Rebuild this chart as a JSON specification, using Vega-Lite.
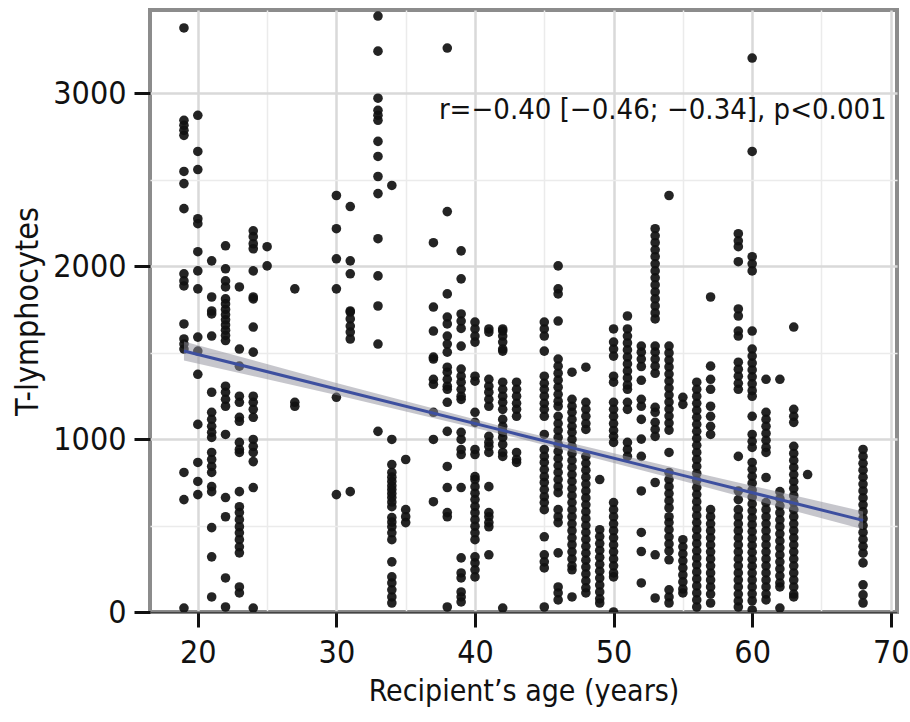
{
"$schema": "https://vega.github.io/schema/vega-lite/v6.json",
"width": 747, "height": 602,
"autosize": {"type": "none"},
"padding": {"left": 150, "top": 10, "right": 13, "bottom": 110},
"background": "white",
"config": {"view": {"stroke": "#8c8c8c", "strokeWidth": 4}, "font": "DejaVu Sans Condensed, Roboto, sans-serif"},
"datasets": {
"pts": [
{"a":19,"v":3378},{"a":19,"v":2844},{"a":19,"v":2815},{"a":19,"v":2786},{"a":19,"v":2757},{"a":19,"v":2548},{"a":19,"v":2478},{"a":19,"v":2333},{"a":19,"v":1956},{"a":19,"v":1915},{"a":19,"v":1886},{"a":19,"v":1666},{"a":19,"v":1579},{"a":19,"v":1550},{"a":19,"v":1521},{"a":19,"v":807},{"a":19,"v":650},{"a":19,"v":23},
{"a":20,"v":2873},{"a":20,"v":2664},{"a":20,"v":2559},{"a":20,"v":2275},{"a":20,"v":2246},{"a":20,"v":2084},{"a":20,"v":1973},{"a":20,"v":1869},{"a":20,"v":1590},{"a":20,"v":1509},{"a":20,"v":1375},{"a":20,"v":1085},{"a":20,"v":865},{"a":20,"v":755},{"a":20,"v":679},
{"a":21,"v":2031},{"a":21,"v":1822},{"a":21,"v":1741},{"a":21,"v":1724},{"a":21,"v":1596},{"a":21,"v":1271},{"a":21,"v":1155},{"a":21,"v":1114},{"a":21,"v":1074},{"a":21,"v":1039},{"a":21,"v":1010},{"a":21,"v":923},{"a":21,"v":882},{"a":21,"v":842},{"a":21,"v":807},{"a":21,"v":725},{"a":21,"v":696},{"a":21,"v":488},{"a":21,"v":319},{"a":21,"v":87},
{"a":22,"v":2118},{"a":22,"v":1985},{"a":22,"v":1915},{"a":22,"v":1880},{"a":22,"v":1811},{"a":22,"v":1782},{"a":22,"v":1750},{"a":22,"v":1720},{"a":22,"v":1690},{"a":22,"v":1660},{"a":22,"v":1630},{"a":22,"v":1600},{"a":22,"v":1570},{"a":22,"v":1306},{"a":22,"v":1271},{"a":22,"v":1230},{"a":22,"v":1190},{"a":22,"v":1027},{"a":22,"v":662},{"a":22,"v":551},{"a":22,"v":197},{"a":22,"v":29},
{"a":23,"v":1880},{"a":23,"v":1521},{"a":23,"v":1422},{"a":23,"v":1248},{"a":23,"v":1213},{"a":23,"v":1126},{"a":23,"v":1103},{"a":23,"v":981},{"a":23,"v":940},{"a":23,"v":923},{"a":23,"v":696},{"a":23,"v":609},{"a":23,"v":575},{"a":23,"v":534},{"a":23,"v":493},{"a":23,"v":458},{"a":23,"v":418},{"a":23,"v":377},{"a":23,"v":342},{"a":23,"v":145},{"a":23,"v":110},
{"a":24,"v":2205},{"a":24,"v":2171},{"a":24,"v":2130},{"a":24,"v":2101},{"a":24,"v":1973},{"a":24,"v":1822},{"a":24,"v":1811},{"a":24,"v":1648},{"a":24,"v":1503},{"a":24,"v":1248},{"a":24,"v":1213},{"a":24,"v":1172},{"a":24,"v":1126},{"a":24,"v":998},{"a":24,"v":958},{"a":24,"v":923},{"a":24,"v":870},{"a":24,"v":720},{"a":24,"v":23},
{"a":25,"v":2113},{"a":25,"v":2002},
{"a":27,"v":1869},{"a":27,"v":1213},{"a":27,"v":1190},
{"a":30,"v":2409},{"a":30,"v":2217},{"a":30,"v":2043},{"a":30,"v":1869},{"a":30,"v":1242},{"a":30,"v":679},
{"a":31,"v":2345},{"a":31,"v":2031},{"a":31,"v":1956},{"a":31,"v":1741},{"a":31,"v":1735},{"a":31,"v":1695},{"a":31,"v":1654},{"a":31,"v":1619},{"a":31,"v":1579},{"a":31,"v":696},
{"a":33,"v":3447},{"a":33,"v":3244},{"a":33,"v":2972},{"a":33,"v":2902},{"a":33,"v":2873},{"a":33,"v":2844},{"a":33,"v":2722},{"a":33,"v":2635},{"a":33,"v":2519},{"a":33,"v":2420},{"a":33,"v":2159},{"a":33,"v":1944},{"a":33,"v":1770},{"a":33,"v":1550},{"a":33,"v":1045},
{"a":34,"v":2467},{"a":34,"v":998},{"a":34,"v":853},{"a":34,"v":807},{"a":34,"v":780},{"a":34,"v":755},{"a":34,"v":730},{"a":34,"v":708},{"a":34,"v":685},{"a":34,"v":662},{"a":34,"v":636},{"a":34,"v":609},{"a":34,"v":546},{"a":34,"v":520},{"a":34,"v":493},{"a":34,"v":458},{"a":34,"v":418},{"a":34,"v":290},{"a":34,"v":203},{"a":34,"v":168},{"a":34,"v":128},{"a":34,"v":87},{"a":34,"v":52},
{"a":35,"v":882},{"a":35,"v":592},{"a":35,"v":551},{"a":35,"v":517},
{"a":37,"v":2136},{"a":37,"v":1764},{"a":37,"v":1625},{"a":37,"v":1474},{"a":37,"v":1463},{"a":37,"v":1346},{"a":37,"v":1317},{"a":37,"v":1155},{"a":37,"v":998},{"a":37,"v":638},
{"a":38,"v":3262},{"a":38,"v":2316},{"a":38,"v":1840},{"a":38,"v":1706},{"a":38,"v":1666},{"a":38,"v":1596},{"a":38,"v":1550},{"a":38,"v":1503},{"a":38,"v":1416},{"a":38,"v":1387},{"a":38,"v":1346},{"a":38,"v":1306},{"a":38,"v":1288},{"a":38,"v":1213},{"a":38,"v":1045},{"a":38,"v":842},{"a":38,"v":720},{"a":38,"v":575},{"a":38,"v":551},{"a":38,"v":29},
{"a":39,"v":2089},{"a":39,"v":1927},{"a":39,"v":1724},{"a":39,"v":1683},{"a":39,"v":1640},{"a":39,"v":1538},{"a":39,"v":1405},{"a":39,"v":1364},{"a":39,"v":1329},{"a":39,"v":1288},{"a":39,"v":1248},{"a":39,"v":1230},{"a":39,"v":1039},{"a":39,"v":998},{"a":39,"v":940},{"a":39,"v":911},{"a":39,"v":720},{"a":39,"v":313},{"a":39,"v":226},{"a":39,"v":197},{"a":39,"v":116},{"a":39,"v":87},{"a":39,"v":58},
{"a":40,"v":1677},{"a":40,"v":1637},{"a":40,"v":1596},{"a":40,"v":1561},{"a":40,"v":1364},{"a":40,"v":1335},{"a":40,"v":1155},{"a":40,"v":1097},{"a":40,"v":940},{"a":40,"v":911},{"a":40,"v":783},{"a":40,"v":766},{"a":40,"v":725},{"a":40,"v":687},{"a":40,"v":650},{"a":40,"v":611},{"a":40,"v":574},{"a":40,"v":534},{"a":40,"v":496},{"a":40,"v":458},{"a":40,"v":418},{"a":40,"v":319},{"a":40,"v":284},{"a":40,"v":244},{"a":40,"v":203},
{"a":41,"v":1637},{"a":41,"v":1619},{"a":41,"v":1346},{"a":41,"v":1306},{"a":41,"v":1271},{"a":41,"v":1230},{"a":41,"v":1190},{"a":41,"v":1016},{"a":41,"v":981},{"a":41,"v":958},{"a":41,"v":923},{"a":41,"v":725},{"a":41,"v":575},{"a":41,"v":551},{"a":41,"v":517},{"a":41,"v":493},{"a":41,"v":331},
{"a":42,"v":1637},{"a":42,"v":1625},{"a":42,"v":1596},{"a":42,"v":1561},{"a":42,"v":1521},{"a":42,"v":1509},{"a":42,"v":1329},{"a":42,"v":1288},{"a":42,"v":1248},{"a":42,"v":1213},{"a":42,"v":1172},{"a":42,"v":1114},{"a":42,"v":1074},{"a":42,"v":1045},{"a":42,"v":1039},{"a":42,"v":1010},{"a":42,"v":969},{"a":42,"v":923},{"a":42,"v":900},{"a":42,"v":23},
{"a":43,"v":1329},{"a":43,"v":1288},{"a":43,"v":1248},{"a":43,"v":1207},{"a":43,"v":1172},{"a":43,"v":1132},{"a":43,"v":923},{"a":43,"v":882},{"a":43,"v":865},
{"a":45,"v":1677},{"a":45,"v":1637},{"a":45,"v":1596},{"a":45,"v":1509},{"a":45,"v":1364},{"a":45,"v":1323},{"a":45,"v":1288},{"a":45,"v":1248},{"a":45,"v":1207},{"a":45,"v":1172},{"a":45,"v":1132},{"a":45,"v":1027},{"a":45,"v":940},{"a":45,"v":900},{"a":45,"v":865},{"a":45,"v":824},{"a":45,"v":783},{"a":45,"v":749},{"a":45,"v":708},{"a":45,"v":667},{"a":45,"v":633},{"a":45,"v":592},{"a":45,"v":435},{"a":45,"v":331},{"a":45,"v":290},{"a":45,"v":255},{"a":45,"v":29},
{"a":46,"v":2002},{"a":46,"v":1869},{"a":46,"v":1840},{"a":46,"v":1683},{"a":46,"v":1463},{"a":46,"v":1422},{"a":46,"v":1381},{"a":46,"v":1341},{"a":46,"v":1300},{"a":46,"v":1259},{"a":46,"v":1219},{"a":46,"v":1190},{"a":46,"v":1132},{"a":46,"v":1090},{"a":46,"v":1050},{"a":46,"v":1010},{"a":46,"v":969},{"a":46,"v":929},{"a":46,"v":888},{"a":46,"v":847},{"a":46,"v":807},{"a":46,"v":766},{"a":46,"v":725},{"a":46,"v":690},{"a":46,"v":592},{"a":46,"v":551},{"a":46,"v":517},{"a":46,"v":342},{"a":46,"v":145},{"a":46,"v":110},{"a":46,"v":70},
{"a":47,"v":1387},{"a":47,"v":1230},{"a":47,"v":1190},{"a":47,"v":1155},{"a":47,"v":1114},{"a":47,"v":1074},{"a":47,"v":1039},{"a":47,"v":998},{"a":47,"v":958},{"a":47,"v":917},{"a":47,"v":877},{"a":47,"v":836},{"a":47,"v":795},{"a":47,"v":755},{"a":47,"v":714},{"a":47,"v":673},{"a":47,"v":633},{"a":47,"v":592},{"a":47,"v":551},{"a":47,"v":510},{"a":47,"v":470},{"a":47,"v":429},{"a":47,"v":389},{"a":47,"v":348},{"a":47,"v":307},{"a":47,"v":267},{"a":47,"v":244},{"a":47,"v":87},
{"a":48,"v":1416},{"a":48,"v":1213},{"a":48,"v":1172},{"a":48,"v":1132},{"a":48,"v":1090},{"a":48,"v":1056},{"a":48,"v":900},{"a":48,"v":860},{"a":48,"v":820},{"a":48,"v":780},{"a":48,"v":740},{"a":48,"v":700},{"a":48,"v":660},{"a":48,"v":620},{"a":48,"v":580},{"a":48,"v":540},{"a":48,"v":500},{"a":48,"v":460},{"a":48,"v":420},{"a":48,"v":380},{"a":48,"v":340},{"a":48,"v":300},{"a":48,"v":260},{"a":48,"v":220},{"a":48,"v":180},{"a":48,"v":140},{"a":48,"v":110},
{"a":49,"v":766},{"a":49,"v":476},{"a":49,"v":436},{"a":49,"v":396},{"a":49,"v":356},{"a":49,"v":316},{"a":49,"v":276},{"a":49,"v":236},{"a":49,"v":196},{"a":49,"v":156},{"a":49,"v":116},{"a":49,"v":76},{"a":49,"v":52},
{"a":50,"v":1637},{"a":50,"v":1561},{"a":50,"v":1521},{"a":50,"v":1480},{"a":50,"v":1364},{"a":50,"v":1329},{"a":50,"v":1213},{"a":50,"v":1172},{"a":50,"v":1132},{"a":50,"v":1090},{"a":50,"v":1050},{"a":50,"v":1016},{"a":50,"v":981},{"a":50,"v":633},{"a":50,"v":592},{"a":50,"v":551},{"a":50,"v":510},{"a":50,"v":470},{"a":50,"v":429},{"a":50,"v":388},{"a":50,"v":348},{"a":50,"v":307},{"a":50,"v":267},{"a":50,"v":226},{"a":50,"v":203},{"a":50,"v":0},
{"a":51,"v":1712},{"a":51,"v":1637},{"a":51,"v":1596},{"a":51,"v":1556},{"a":51,"v":1516},{"a":51,"v":1475},{"a":51,"v":1435},{"a":51,"v":1394},{"a":51,"v":1354},{"a":51,"v":1313},{"a":51,"v":1288},{"a":51,"v":1213},{"a":51,"v":1172},{"a":51,"v":981},{"a":51,"v":940},{"a":51,"v":900},
{"a":52,"v":1538},{"a":52,"v":1503},{"a":52,"v":1463},{"a":52,"v":1420},{"a":52,"v":1340},{"a":52,"v":1230},{"a":52,"v":1190},{"a":52,"v":1114},{"a":52,"v":1000},{"a":52,"v":900},{"a":52,"v":700},{"a":52,"v":460},{"a":52,"v":350},{"a":52,"v":168},
{"a":53,"v":2217},{"a":53,"v":2176},{"a":53,"v":2136},{"a":53,"v":2095},{"a":53,"v":2055},{"a":53,"v":2014},{"a":53,"v":1973},{"a":53,"v":1933},{"a":53,"v":1892},{"a":53,"v":1851},{"a":53,"v":1811},{"a":53,"v":1770},{"a":53,"v":1730},{"a":53,"v":1695},{"a":53,"v":1538},{"a":53,"v":1503},{"a":53,"v":1463},{"a":53,"v":1422},{"a":53,"v":1381},{"a":53,"v":1184},{"a":53,"v":1155},{"a":53,"v":1097},{"a":53,"v":1056},{"a":53,"v":1016},{"a":53,"v":749},{"a":53,"v":331},{"a":53,"v":81},
{"a":54,"v":2409},{"a":54,"v":1538},{"a":54,"v":1498},{"a":54,"v":1457},{"a":54,"v":1417},{"a":54,"v":1376},{"a":54,"v":1336},{"a":54,"v":1295},{"a":54,"v":1255},{"a":54,"v":1214},{"a":54,"v":1174},{"a":54,"v":1133},{"a":54,"v":1093},{"a":54,"v":1052},{"a":54,"v":923},{"a":54,"v":807},{"a":54,"v":766},{"a":54,"v":725},{"a":54,"v":685},{"a":54,"v":644},{"a":54,"v":603},{"a":54,"v":551},{"a":54,"v":517},{"a":54,"v":476},{"a":54,"v":435},{"a":54,"v":394},{"a":54,"v":353},{"a":54,"v":302},{"a":54,"v":128},{"a":54,"v":87},{"a":54,"v":52},
{"a":55,"v":1242},{"a":55,"v":1201},{"a":55,"v":418},{"a":55,"v":377},{"a":55,"v":336},{"a":55,"v":296},{"a":55,"v":255},{"a":55,"v":214},{"a":55,"v":174},{"a":55,"v":133},{"a":55,"v":110},
{"a":56,"v":1329},{"a":56,"v":1288},{"a":56,"v":1248},{"a":56,"v":1207},{"a":56,"v":1166},{"a":56,"v":1126},{"a":56,"v":1085},{"a":56,"v":1045},{"a":56,"v":1004},{"a":56,"v":964},{"a":56,"v":923},{"a":56,"v":882},{"a":56,"v":842},{"a":56,"v":801},{"a":56,"v":760},{"a":56,"v":720},{"a":56,"v":679},{"a":56,"v":638},{"a":56,"v":598},{"a":56,"v":557},{"a":56,"v":517},{"a":56,"v":476},{"a":56,"v":435},{"a":56,"v":395},{"a":56,"v":354},{"a":56,"v":313},{"a":56,"v":273},{"a":56,"v":232},{"a":56,"v":191},{"a":56,"v":151},{"a":56,"v":110},{"a":56,"v":70},{"a":56,"v":29},
{"a":57,"v":1822},{"a":57,"v":1422},{"a":57,"v":1346},{"a":57,"v":1288},{"a":57,"v":1190},{"a":57,"v":1132},{"a":57,"v":1074},{"a":57,"v":1027},{"a":57,"v":592},{"a":57,"v":551},{"a":57,"v":510},{"a":57,"v":470},{"a":57,"v":429},{"a":57,"v":388},{"a":57,"v":348},{"a":57,"v":307},{"a":57,"v":267},{"a":57,"v":226},{"a":57,"v":185},{"a":57,"v":145},{"a":57,"v":104},{"a":57,"v":52},
{"a":59,"v":2188},{"a":59,"v":2147},{"a":59,"v":2113},{"a":59,"v":2026},{"a":59,"v":1753},{"a":59,"v":1712},{"a":59,"v":1625},{"a":59,"v":1596},{"a":59,"v":1445},{"a":59,"v":1404},{"a":59,"v":1364},{"a":59,"v":1323},{"a":59,"v":1288},{"a":59,"v":900},{"a":59,"v":700},{"a":59,"v":650},{"a":59,"v":592},{"a":59,"v":551},{"a":59,"v":510},{"a":59,"v":470},{"a":59,"v":429},{"a":59,"v":388},{"a":59,"v":348},{"a":59,"v":307},{"a":59,"v":267},{"a":59,"v":226},{"a":59,"v":185},{"a":59,"v":145},{"a":59,"v":104},{"a":59,"v":64},{"a":59,"v":29},
{"a":60,"v":3204},{"a":60,"v":2664},{"a":60,"v":2055},{"a":60,"v":2014},{"a":60,"v":1973},{"a":60,"v":1625},{"a":60,"v":1521},{"a":60,"v":1480},{"a":60,"v":1440},{"a":60,"v":1400},{"a":60,"v":1360},{"a":60,"v":1320},{"a":60,"v":1280},{"a":60,"v":1248},{"a":60,"v":1132},{"a":60,"v":1027},{"a":60,"v":987},{"a":60,"v":952},{"a":60,"v":865},{"a":60,"v":825},{"a":60,"v":785},{"a":60,"v":745},{"a":60,"v":705},{"a":60,"v":665},{"a":60,"v":625},{"a":60,"v":585},{"a":60,"v":545},{"a":60,"v":505},{"a":60,"v":465},{"a":60,"v":425},{"a":60,"v":385},{"a":60,"v":345},{"a":60,"v":305},{"a":60,"v":265},{"a":60,"v":225},{"a":60,"v":185},{"a":60,"v":145},{"a":60,"v":105},{"a":60,"v":65},{"a":60,"v":12},
{"a":61,"v":1346},{"a":61,"v":1155},{"a":61,"v":1114},{"a":61,"v":1074},{"a":61,"v":1033},{"a":61,"v":993},{"a":61,"v":952},{"a":61,"v":923},{"a":61,"v":778},{"a":61,"v":633},{"a":61,"v":592},{"a":61,"v":551},{"a":61,"v":510},{"a":61,"v":470},{"a":61,"v":429},{"a":61,"v":388},{"a":61,"v":348},{"a":61,"v":307},{"a":61,"v":267},{"a":61,"v":226},{"a":61,"v":185},{"a":61,"v":145},{"a":61,"v":104},{"a":61,"v":70},
{"a":62,"v":1346},{"a":62,"v":696},{"a":62,"v":655},{"a":62,"v":614},{"a":62,"v":574},{"a":62,"v":533},{"a":62,"v":493},{"a":62,"v":452},{"a":62,"v":411},{"a":62,"v":371},{"a":62,"v":330},{"a":62,"v":290},{"a":62,"v":249},{"a":62,"v":209},{"a":62,"v":168},{"a":62,"v":145},{"a":62,"v":23},
{"a":63,"v":1648},{"a":63,"v":1172},{"a":63,"v":1132},{"a":63,"v":1097},{"a":63,"v":958},{"a":63,"v":917},{"a":63,"v":877},{"a":63,"v":836},{"a":63,"v":795},{"a":63,"v":755},{"a":63,"v":714},{"a":63,"v":673},{"a":63,"v":633},{"a":63,"v":592},{"a":63,"v":551},{"a":63,"v":510},{"a":63,"v":470},{"a":63,"v":429},{"a":63,"v":388},{"a":63,"v":348},{"a":63,"v":307},{"a":63,"v":267},{"a":63,"v":226},{"a":63,"v":185},{"a":63,"v":145},{"a":63,"v":104},{"a":63,"v":87},
{"a":64,"v":795},
{"a":68,"v":940},{"a":68,"v":900},{"a":68,"v":860},{"a":68,"v":820},{"a":68,"v":780},{"a":68,"v":740},{"a":68,"v":700},{"a":68,"v":660},{"a":68,"v":620},{"a":68,"v":580},{"a":68,"v":540},{"a":68,"v":500},{"a":68,"v":460},{"a":68,"v":420},{"a":68,"v":380},{"a":68,"v":340},{"a":68,"v":284},{"a":68,"v":157},{"a":68,"v":99},{"a":68,"v":52}
],
"fit": [
{"a":19,"v":1510,"lo":1455,"hi":1565},
{"a":30,"v":1290,"lo":1255,"hi":1325},
{"a":43,"v":1030,"lo":1008,"hi":1052},
{"a":55,"v":790,"lo":757,"hi":823},
{"a":68,"v":530,"lo":478,"hi":582}
],
"note": [{"a":53.55,"v":2902,"label":"r=−0.40 [−0.46; −0.34], p<0.001"}]
},
"encoding": {
"x": {"field": "a", "type": "quantitative",
 "scale": {"domain": [16.55, 70.45], "nice": false, "zero": false},
 "axis": {"title": "Recipient’s age (years)", "values": [20,25,30,35,40,45,50,55,60,65,70],
  "labelExpr": "datum.value % 10 === 0 ? datum.label : ''",
  "grid": true,
  "gridColor": {"condition": {"test": "datum.value % 10 === 0", "value": "#d9d9d9"}, "value": "#ebebeb"},
  "gridWidth": {"condition": {"test": "datum.value % 10 === 0", "value": 2.5}, "value": 1.5},
  "tickOpacity": {"condition": {"test": "datum.value % 10 === 0", "value": 1}, "value": 0},
  "tickColor": "#111", "tickWidth": 3, "tickSize": 15,
  "domainColor": "#444", "domainWidth": 2,
  "labelFontSize": 32, "labelColor": "#111", "labelPadding": 10, "labelFlush": false, "labelOverlap": false,
  "titleFontSize": 30, "titleColor": "#111", "titleFontWeight": "normal", "titlePadding": 8}},
"y": {"field": "v", "type": "quantitative",
 "scale": {"domain": [0, 3482], "nice": false, "zero": false},
 "axis": {"title": "T-lymphocytes", "values": [0,500,1000,1500,2000,2500,3000],
    "labelExpr": "datum.value % 1000 === 0 ? datum.label : ''",
    "format": "d",
    "grid": true,
    "gridColor": {"condition": {"test": "datum.value % 1000 === 0", "value": "#d9d9d9"}, "value": "#ebebeb"},
    "gridWidth": {"condition": {"test": "datum.value % 1000 === 0", "value": 2.5}, "value": 1.5},
    "tickOpacity": {"condition": {"test": "datum.value % 1000 === 0", "value": 1}, "value": 0},
    "tickColor": "#111", "tickWidth": 3, "tickSize": 16,
    "domain": false,
    "labelFontSize": 32, "labelColor": "#111", "labelPadding": 8, "labelFlush": false, "labelOverlap": false,
    "titleFontSize": 32, "titleColor": "#111", "titleFontWeight": "normal", "titlePadding": 8}}
},
"layer": [
{"data": {"name": "pts"},
 "mark": {"type": "circle", "size": 92, "color": "#111", "opacity": 0.92, "clip": true}},
{"data": {"name": "fit"},
 "mark": {"type": "area", "color": "#8e8e9a", "opacity": 0.5},
 "encoding": {
  "y": {"field": "lo", "type": "quantitative",
   "scale": {"domain": [0, 3482], "nice": false, "zero": false},
   "axis": {"title": "T-lymphocytes", "values": [0,500,1000,1500,2000,2500,3000],
    "labelExpr": "datum.value % 1000 === 0 ? datum.label : ''",
    "format": "d",
    "grid": true,
    "gridColor": {"condition": {"test": "datum.value % 1000 === 0", "value": "#d9d9d9"}, "value": "#ebebeb"},
    "gridWidth": {"condition": {"test": "datum.value % 1000 === 0", "value": 2.5}, "value": 1.5},
    "tickOpacity": {"condition": {"test": "datum.value % 1000 === 0", "value": 1}, "value": 0},
    "tickColor": "#111", "tickWidth": 3, "tickSize": 16,
    "domain": false,
    "labelFontSize": 32, "labelColor": "#111", "labelPadding": 8, "labelFlush": false, "labelOverlap": false,
    "titleFontSize": 32, "titleColor": "#111", "titleFontWeight": "normal", "titlePadding": 8}},
  "y2": {"field": "hi"}
 }},
{"data": {"name": "fit"},
 "mark": {"type": "line", "color": "#3d4f9f", "strokeWidth": 3}},
{"data": {"name": "note"},
 "mark": {"type": "text", "fontSize": 29, "color": "#111", "align": "center", "baseline": "middle"},
 "encoding": {
  "text": {"field": "label"}
 }}
]
}
